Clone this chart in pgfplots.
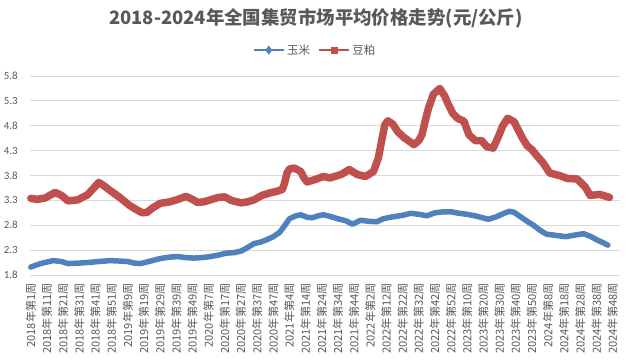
\documentclass[border=0pt]{standalone}
\usepackage{pgfplots}
\pgfplotsset{compat=1.18}
\usepackage{fontspec}
\setmainfont{Carlito}
\newfontfamily\cjk{Noto Sans CJK SC}
\definecolor{cBlue}{HTML}{4F81BD}
\definecolor{cRed}{HTML}{C0504D}
\definecolor{cText}{HTML}{595959}
\definecolor{cGrid}{HTML}{D9D9D9}
\begin{document}
\begin{tikzpicture}
\useasboundingbox (0,0) rectangle (632bp,362bp);
\begin{axis}[
  at={(30bp,87bp)}, anchor=south west,
  width=590bp, height=199bp, scale only axis,
  xmin=-0.5, xmax=364.5, ymin=1.8, ymax=5.8,
  clip=false,
  axis line style={draw=none},
  major tick length=0pt,
  ymajorgrids, grid style={cGrid, line width=0.8bp},
  ytick={1.8,2.3,...,5.8},
  yticklabel={\pgfmathprintnumber[fixed,fixed zerofill,precision=1]{\tick}},
  /pgf/number format/assume math mode=true,
  yticklabel style={font=\fontsize{11}{13}\selectfont, text=cText, inner sep=0pt},
  yticklabel shift=12bp,
  xtick={0,10,...,360},
  xticklabels={2018年第1周,2018年第11周,2018年第21周,2018年第31周,2018年第41周,2018年第51周,2019年第9周,2019年第19周,2019年第29周,2019年第39周,2019年第49周,2020年第7周,2020年第17周,2020年第27周,2020年第37周,2020年第47周,2021年第4周,2021年第14周,2021年第24周,2021年第34周,2021年第44周,2022年第2周,2022年第12周,2022年第22周,2022年第32周,2022年第42周,2022年第52周,2023年第10周,2023年第20周,2023年第30周,2023年第40周,2023年第50周,2024年第8周,2024年第18周,2024年第28周,2024年第38周,2024年第48周},
  xticklabel style={rotate=90, anchor=east, inner sep=0pt, font=\cjk\fontsize{11.2}{12}\selectfont, text=cText},
  xticklabel shift=8bp,
  legend style={at={(0.483,1.13)}, anchor=center, draw=none, fill=none,
    font=\cjk\fontsize{11.5}{13}\selectfont, text=cText,
    /tikz/every even column/.append style={column sep=6bp}},
  legend columns=2,
  legend cell align=left,
  legend image code/.code={\draw[mark repeat=2,mark phase=2,#1] plot coordinates {(0bp,0bp) (15bp,0bp) (30bp,0bp)};},
]
\addplot[cBlue, line width=5.5bp, line join=round, line cap=round, forget plot] table {
0 1.96
6 2.03
14 2.09
19 2.07
23 2.03
30 2.04
35 2.05
42 2.07
49 2.09
55 2.08
60 2.07
64 2.04
68 2.03
74 2.08
80 2.13
86 2.16
91 2.17
96 2.15
101 2.14
106 2.15
111 2.17
116 2.20
121 2.24
126 2.25
130 2.28
134 2.35
138 2.43
142 2.46
146 2.51
150 2.57
154 2.66
157 2.79
160 2.93
164 2.99
167 3.01
171 2.96
174 2.95
178 2.99
181 3.01
185 2.98
190 2.93
195 2.89
199 2.82
204 2.90
209 2.88
214 2.87
218 2.93
224 2.97
230 3.00
235 3.04
240 3.02
245 2.99
250 3.05
255 3.07
260 3.07
265 3.04
270 3.02
276 2.98
283 2.92
288 2.97
292 3.03
296 3.08
299 3.06
303 2.97
307 2.88
311 2.80
315 2.70
319 2.62
324 2.60
331 2.57
336 2.60
342 2.63
346 2.58
350 2.51
354 2.45
357 2.40
};
\addplot[cRed, line width=7.5bp, line join=round, line cap=round, forget plot] table {
0 3.34
4 3.32
9 3.35
15 3.46
19 3.40
23 3.29
29 3.31
35 3.41
39 3.55
42 3.66
45 3.60
49 3.50
55 3.36
61 3.20
65 3.12
69 3.05
72 3.06
75 3.14
80 3.24
86 3.27
91 3.32
96 3.38
100 3.32
103 3.26
107 3.27
111 3.31
116 3.36
120 3.37
124 3.30
130 3.25
134 3.27
138 3.31
143 3.40
148 3.45
152 3.48
155.6 3.52
157 3.65
158.5 3.85
160 3.93
163 3.95
167 3.88
169 3.75
171 3.67
176 3.72
181 3.78
185 3.75
188 3.78
192 3.82
197 3.92
202 3.82
207 3.78
212 3.88
215 4.15
217 4.49
219 4.82
221 4.90
224 4.83
227 4.68
231 4.56
237 4.42
240 4.50
242 4.62
244 4.90
246 5.15
249 5.43
253 5.55
256 5.40
258 5.25
261 5.05
264 4.95
268 4.89
271 4.62
275 4.50
279 4.50
282 4.38
286 4.35
289 4.56
292 4.80
295 4.95
299 4.88
304 4.56
307 4.40
310 4.32
313 4.20
317 4.05
321 3.85
327 3.80
332 3.74
338 3.73
343 3.57
346 3.40
352 3.42
358 3.36
};
\addlegendimage{cBlue, line width=2.5bp, mark=diamond*, mark size=2.5bp}
\addlegendentry{玉米}
\addlegendimage{cRed, line width=2.5bp, mark=square*, mark size=2.2bp}
\addlegendentry{豆粕}
\end{axis}
\node[text=cText, font=\cjk\bfseries\fontsize{18.5}{22}\selectfont] at (316bp,344bp) {2018-2024年全国集贸市场平均价格走势(元/公斤)};
\end{tikzpicture}
\end{document}
